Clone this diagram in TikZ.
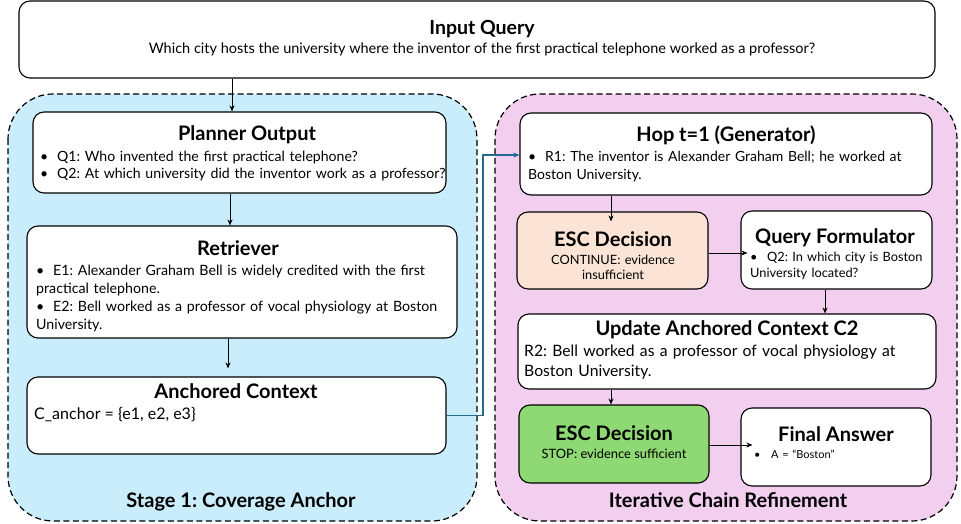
\documentclass[tikz,border=0pt]{standalone}
\usepackage{fontspec}
\setmainfont{Lato}
\usetikzlibrary{arrows.meta,calc}

\definecolor{anchorbg}{HTML}{CAEDFB}
\definecolor{refinebg}{HTML}{F2CEEF}
\definecolor{contbg}{HTML}{FBE3D6}
\definecolor{stopbg}{HTML}{8ED973}
\definecolor{linkblue}{HTML}{236A8E}

% bullet line with hanging indent (items are separated by \par)
\newcommand\bitem[1]{\noindent\hangindent=17pt\hangafter=1\makebox[17pt][l]{\textbullet}#1}

\tikzset{
  stagebox/.style={draw, dashed, dash pattern=on 6pt off 3.5pt, line width=1.2pt, rounded corners=45pt},
  card/.style={draw, line width=1.1pt, rounded corners=11pt, fill=white, inner sep=0pt},
  ttl/.style={anchor=base, inner sep=0pt, font=\bfseries\fontsize{20}{24}\selectfont},
  body/.style={anchor=base west, inner sep=0pt, align=left, font=\fontsize{14.1}{17.8}\selectfont},
  arr/.style={-{Stealth[length=6pt,width=5pt]}, line width=1pt},
  link/.style={-{Stealth[length=6pt,width=5pt]}, line width=1.3pt, draw=linkblue},
}

\begin{document}
\frenchspacing
\hyphenpenalty=10000
\begin{tikzpicture}[x=1pt,y=-1pt]
\useasboundingbox (0,0) rectangle (961,524);

% stage containers
\draw[stagebox, fill=anchorbg] (8,94) rectangle (477,521);
\draw[stagebox, fill=refinebg] (495,94) rectangle (957,521);

% input query
\node[card, minimum width=916pt, minimum height=77pt] (inq) at (477,39.5) {};
\node[ttl, font=\bfseries\fontsize{19.5}{23}\selectfont] (inqt) at (482,35) {Input Query};
\node[anchor=base, inner sep=0pt, font=\fontsize{14.5}{17}\selectfont] (inqb) at (482,54)
  {Which city hosts the university where the inventor of the first practical telephone worked as a professor?};

% stage 1: coverage anchor
\node[card, minimum width=413pt, minimum height=81pt] (plan) at (239.5,152.5) {};
\node[ttl] (plant) at (247,141) {Planner Output};
\node[body, text width=440pt, font=\fontsize{14.1}{17.6}\selectfont] (planb) at (40,161)
  {\bitem{Q1: Who invented the first practical telephone?}\par
   \bitem{Q2: At which university did the inventor work as a professor?}};

\node[card, minimum width=430pt, minimum height=112pt] (retr) at (242,282) {};
\node[ttl] (retrt) at (238,255) {Retriever};
\node[body, text width=440pt, font=\fontsize{14.2}{18.1}\selectfont] (retrb) at (36,275)
  {\bitem{E1: Alexander Graham Bell is widely credited with the first\\practical telephone.}\par
   \bitem{E2: Bell worked as a professor of vocal physiology at Boston\\University.}};

\node[card, minimum width=419pt, minimum height=77pt] (anc) at (236.5,415.5) {};
\node[ttl] (anct) at (236,398) {Anchored Context};
\node[body, font=\fontsize{16}{19}\selectfont] (ancb) at (34,419) {C\_anchor = \{e1, e2, e3\}};

\node[ttl] (stage1) at (241,507) {Stage 1: Coverage Anchor};

% iterative chain refinement
\node[card, minimum width=412pt, minimum height=82pt] (hop) at (726,154) {};
\node[ttl] (hopt) at (726,142) {Hop t=1 (Generator)};
\node[body, text width=420pt, font=\fontsize{14}{18.3}\selectfont] (hopb) at (528,161)
  {\bitem{R1: The inventor is Alexander Graham Bell; he worked at\\Boston University.}};

\node[card, fill=contbg, minimum width=191pt, minimum height=77pt] (esc1) at (612.5,250.5) {};
\node[ttl] (esc1t) at (613,246) {ESC Decision};
\node[anchor=base, inner sep=0pt, text width=180pt, align=center, font=\fontsize{12.8}{15.8}\selectfont] (esc1b) at (613,264)
  {CONTINUE: evidence\\insufficient};

\node[card, minimum width=191pt, minimum height=78pt] (qf) at (836.5,250) {};
\node[ttl] (qft) at (835,243) {Query Formulator};
\node[body, text width=190pt, font=\fontsize{12.8}{16}\selectfont] (qfb) at (750,261)
  {\bitem{Q2: In which city is Boston\\University located?}};

\node[card, minimum width=418pt, minimum height=75pt] (upd) at (727,351.5) {};
\node[ttl] (updt) at (727,335) {Update Anchored Context C2};
\node[body, text width=420pt, font=\fontsize{15.7}{20}\selectfont] (updb) at (524,356)
  {R2: Bell worked as a professor of vocal physiology at\\Boston University.};

\node[card, fill=stopbg, minimum width=190pt, minimum height=78pt] (esc2) at (614,444) {};
\node[ttl] (esc2t) at (614,440) {ESC Decision};
\node[anchor=base, inner sep=0pt, font=\fontsize{12.9}{15.8}\selectfont] (esc2b) at (614,458)
  {STOP: evidence sufficient};

\node[card, minimum width=190pt, minimum height=78pt] (fin) at (836,447) {};
\node[ttl] (fint) at (836,441) {Final Answer};
\node[body, text width=170pt, font=\fontsize{11}{13}\selectfont] (finb) at (754,458)
  {\makebox[17pt][l]{\textbullet}A = “Boston”};

\node[ttl] (stage2) at (728,507) {Iterative Chain Refinement};

% connector columns and rows
\coordinate (xa) at (232,0);
\coordinate (xb) at (230,0);
\coordinate (xc) at (228,0);
\coordinate (xd) at (611,0);
\coordinate (xe) at (825,0);
\coordinate (lx) at (483,0);
\coordinate (ly) at (0,155);
\coordinate (ya) at (0,253);
\coordinate (yb) at (0,445);

% flow arrows
\draw[arr] (inq.south -| xa) -- (plan.north -| xa);
\draw[arr] (plan.south -| xb) -- (retr.north -| xb);
\draw[arr] (retr.south -| xc) -- ($(anc.north -| xc)+(0,-8)$);
\draw[link] (anc.east) -| (lx |- ly) -- (hop.west |- ly);
\draw[arr] (hop.south -| xd) -- ($(esc1.north -| xd)+(0,10)$);
\draw[arr] (esc1.east |- ya) -- ($(qf.west |- ya)+(7,0)$);
\draw[arr] (qf.south -| xe) -- (upd.north -| xe);
\draw[arr] (upd.south -| xd) -- (esc2.north -| xd);
\draw[arr] (esc2.east |- yb) -- ($(fin.west |- yb)+(12,0)$);
\end{tikzpicture}
\end{document}
